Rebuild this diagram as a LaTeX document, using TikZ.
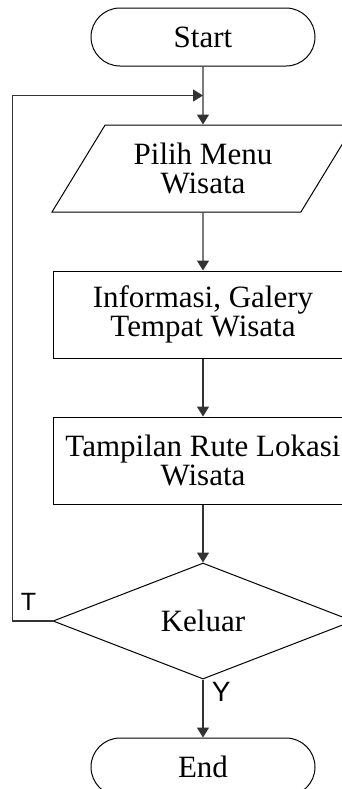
\documentclass[tikz,border=0pt]{standalone}
\usepackage{fontspec}
\setmainfont{Liberation Serif}
\newfontfamily\lblfont{Liberation Sans}
\usetikzlibrary{arrows.meta,positioning,calc,shapes.geometric,chains}
\tikzset{
  flowterm/.style={draw, line width=0.5pt, rounded corners=14.5pt, align=center,
                 font=\fontsize{15.5pt}{14.5pt}\selectfont, minimum width=112pt, minimum height=29pt, inner sep=2pt},
  flowio/.style={draw, line width=0.5pt, trapezium, trapezium left angle=48, trapezium right angle=132,
                 trapezium stretches body, align=center,
                 font=\fontsize{15.5pt}{14.5pt}\selectfont, minimum width=151pt, minimum height=43.5pt, inner sep=2pt},
  flowproc/.style={draw, line width=0.5pt, align=center,
                 font=\fontsize{15.5pt}{14.5pt}\selectfont, minimum width=150pt, minimum height=43.5pt, inner sep=2pt},
  flowdec/.style={draw, line width=0.5pt, diamond, aspect=2.6, align=center,
                 font=\fontsize{15.5pt}{14.5pt}\selectfont, minimum width=150pt, minimum height=58pt, inner sep=1pt},
  flowarr/.style={-{Triangle[length=5pt,width=6pt]}, line width=0.7pt, black!80},
  flowlbl/.style={font=\lblfont\fontsize{12.5pt}{12.5pt}\selectfont, inner sep=0pt}
}
\begin{document}
\begin{tikzpicture}[start chain=going below, node distance=29pt, every join/.style={flowarr}]
\path[use as bounding box, clip] (0,0) rectangle (171pt,-394.5pt);
\node[flowterm, on chain] (start) at (101.5pt,-18.5pt) {Start};
\node[flowio, on chain, join] (pilih) {Pilih Menu\\Wisata};
\node[flowproc, on chain, join] (info) {Informasi, Galery\\Tempat Wisata};
\node[flowproc, on chain, join] (rute) {Tampilan Rute Lokasi\\Wisata};
\node[flowdec, on chain, join] (keluar) {Keluar};
\node[flowterm, on chain, join] (stop) {End};
% kembali ke menu
\draw[flowarr] (keluar.west) -- ++(-20pt,0) |- ($(start.south)!0.5!(pilih.north)$);
\node[flowlbl, above left=5pt and 8pt of keluar.west] (tlbl) {T};
\node[flowlbl, font=\lblfont\fontsize{14pt}{14pt}\selectfont, below right=1pt and 4.3pt of keluar.south] (ylbl) {Y};
\end{tikzpicture}
\end{document}
